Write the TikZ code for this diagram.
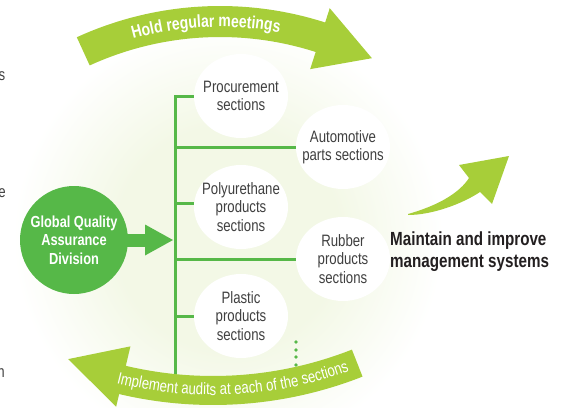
\documentclass[tikz,border=0pt]{standalone}
\usepackage{fontspec}
\setmainfont{Liberation Sans}[FakeStretch=0.8]
\usetikzlibrary{shapes.geometric, positioning, arrows.meta, decorations.text}

\definecolor{qgreen}{RGB}{86,184,72}
\definecolor{bandgreen}{RGB}{167,206,57}
\definecolor{glowc}{RGB}{243,248,230}
\definecolor{txtgray}{RGB}{64,64,64}
\definecolor{txtdark}{RGB}{35,31,32}

\pgfdeclareradialshading{glowshade}{\pgfpoint{0bp}{0bp}}{color(0bp)=(glowc); color(13bp)=(glowc); color(25bp)=(white); color(50bp)=(white)}

\tikzset{
  x=1pt, y=1pt, % work in pixels of the reference
  section/.style={ellipse, fill=white, minimum width=94pt, minimum height=84pt, inner sep=-12pt,
    align=center, text=txtgray, font=\fontsize{16.5}{18.5}\selectfont}, % white section bubbles
  division/.style={circle, fill=qgreen, minimum size=108pt, inner sep=0pt,
    align=center, text=white, font=\fontsize{16}{18.5}\selectfont\bfseries}, % the green division
  branch/.style={qgreen, line width=3pt}, % the green tree
  stray/.style={anchor=base east, inner sep=0pt, text=txtgray, font=\fontsize{16.5}{18.5}\selectfont},
}

\begin{document}
\begin{tikzpicture}
  \useasboundingbox (0,0) rectangle (570,-407);
  \shade[shading=glowshade] (228,-238) circle (215);

  \node[division] (div) at (74,-240) {Global Quality\\Assurance\\Division};
  \node[section] (proc) at (241,-96) {Procurement\\sections};
  \node[section] (auto) at (343,-147) {Automotive\\parts sections};
  \node[section] (poly) at (241,-207) {Polyurethane\\products\\sections};
  \node[section] (rubber) at (343,-259) {Rubber\\products\\sections};
  \node[section] (plastic) at (241,-316) {Plastic\\products\\sections};

  \node[stray] (s1) at (5.5,-80) {s};
  \node[stray] (s2) at (6,-197) {e};
  \node[stray] (s3) at (5,-377) {n};

  \coordinate (trunktop) at (175,-96);
  \coordinate (trunkbot) at (175,-388);
  \coordinate (arrowend) at (173,-240);

  \draw[branch] (proc) -- (trunktop) -- (trunkbot);
  \draw[branch] (auto -| trunktop) -- (auto);
  \draw[branch] ([yshift=4pt]poly.west -| trunktop) -- ([yshift=4pt]poly.west);
  \draw[branch] (rubber -| trunktop) -- (rubber);
  \draw[branch] (plastic -| trunktop) -- (plastic);
  \draw[branch, line width=13pt, shorten <=-1pt, -{Triangle[length=28pt, width=31pt, line width=0pt]}] (div.east) -- (div.east -| arrowend);

  \foreach \y in {342,350,357,365}
    \fill[qgreen] (296,-\y) circle (1.9);

  % hold regular meetings
  \begin{scope}[shift={(220,-350)}]
    \fill[bandgreen] (114.6:313) arc[start angle=114.6, end angle=72.2, radius=313] -- (72.2:295) -- (62.5:329)
      -- (72.2:359) -- (72.2:344) arc[start angle=72.2, end angle=114.6, radius=344] -- cycle;
    \path[decorate, decoration={text along path, text align=center, text color=white,
      text={|\fontsize{17.5}{17.5}\selectfont\bfseries|Hold regular meetings}}]
      (108:323) arc[start angle=108, end angle=77, radius=323];
  \end{scope}

  % implement audits
  \begin{scope}[shift={(213,3)}]
    \fill[bandgreen] (-68.5:379) arc[start angle=-68.5, end angle=-103.3, radius=379] -- (-103.3:359) -- (-111.8:390)
      -- (-103.3:421) -- (-103.3:408) arc[start angle=-103.3, end angle=-68.5, radius=408] -- cycle;
    \path[decorate, decoration={text along path, text align=center, text color=white,
      text={|\fontsize{16.5}{16.5}\selectfont|Implement audits at each of the sections}}]
      (-106:398) arc[start angle=-106, end angle=-68, radius=398];
  \end{scope}

  \fill[bandgreen] (408,-214) .. controls (440,-205) and (460,-192) .. (469,-178) -- (459,-165) -- (509,-156)
    -- (492,-204) -- (480,-192) .. controls (462,-204) and (432,-215) .. (408,-215) -- cycle;
  \node[anchor=north west, inner sep=0pt, align=left, text=txtdark, font=\fontsize{19}{22}\selectfont\bfseries]
    (goal) at (390,-232) {Maintain and improve\\management systems};
\end{tikzpicture}
\end{document}
